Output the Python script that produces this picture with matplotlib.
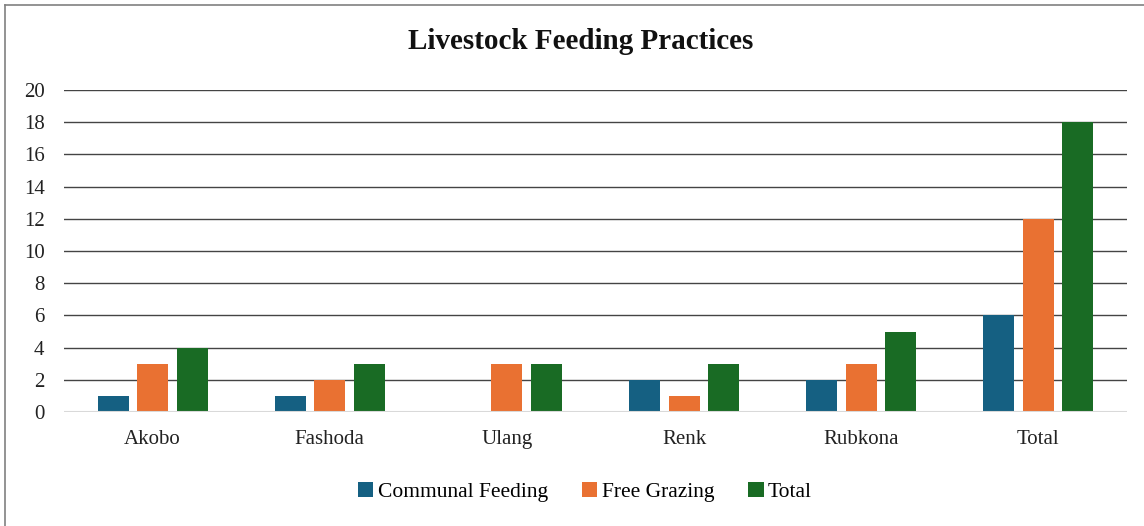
import matplotlib
matplotlib.use("Agg")
import matplotlib.pyplot as plt
import numpy as np
from matplotlib.lines import Line2D

categories = ["Akobo", "Fashoda", "Ulang", "Renk", "Rubkona", "Total"]
communal_feeding = [1, 1, 0, 2, 2, 6]
free_grazing = [3, 2, 3, 1, 3, 12]
total = [4, 3, 3, 3, 5, 18]
series_names = ["Communal Feeding", "Free Grazing", "Total"]
colors = ["#156082", "#E97132", "#196B24"]
yticks = list(range(0, 21, 2))

plt.rcParams['font.family'] = ['Liberation Serif', 'DejaVu Serif']

fig = plt.figure(figsize=(11.44, 5.26), dpi=100)
W, H = 1144, 526
ax = fig.add_axes([64 / W, 1 - 412 / H, (1127 - 64) / W, (412 - 90) / H])

x = np.arange(len(categories))
bw = 0.175
step = 0.223
for i, (vals, name, c) in enumerate(zip([communal_feeding, free_grazing, total], series_names, colors)):
    ax.bar(x + (i - 1) * step, vals, width=bw, color=c, label=name, zorder=3)

ax.set_xlim(-0.5, len(categories) - 0.5)
ax.set_ylim(0, 20)
ax.set_yticks(yticks)
ax.set_yticklabels([str(v) for v in yticks], fontsize=15, color="#222222")
ax.set_xticks(x)
ax.set_xticklabels(categories, fontsize=15, color="#222222")
ax.tick_params(axis='both', length=0)
ax.tick_params(axis='y', pad=14)
ax.tick_params(axis='x', pad=13)
for s in ax.spines.values():
    s.set_visible(False)
for v in yticks[1:]:
    ax.axhline(v, color="#444444", linewidth=1.0, zorder=1)
ax.axhline(0, color="#d9d9d9", linewidth=1.5, zorder=4)

fig.text(581 / W, 1 - 41 / H, "Livestock Feeding Practices", ha='center', va='center',
         fontsize=21, fontweight='bold', color="#111111")

leg = fig.legend(loc='center', bbox_to_anchor=(585 / W, 1 - 492 / H), ncol=3, frameon=False,
                 fontsize=15.5, handlelength=0.7, handleheight=0.7, handletextpad=0.2,
                 columnspacing=1.6)

# figure border (left and top)
fig.add_artist(Line2D([4.5 / W, 4.5 / W], [0, 1 - 4.5 / H], color="#808080", linewidth=1.2))
fig.add_artist(Line2D([4.5 / W, 1], [1 - 4.5 / H, 1 - 4.5 / H], color="#808080", linewidth=1.2))

fig.savefig("out.png", dpi=100)
